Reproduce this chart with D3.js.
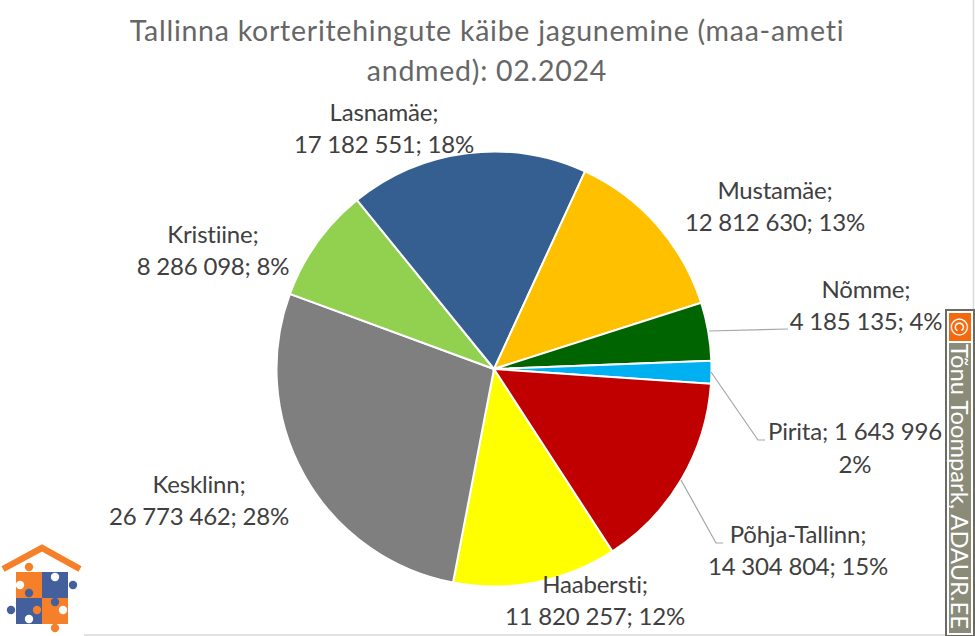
<!DOCTYPE html>
<html><head><meta charset="utf-8">
<script src="https://cdn.jsdelivr.net/npm/d3@7"></script>
<style>html,body{margin:0;padding:0;background:#fff;overflow:hidden}svg{display:block}text{font-family:Lato,"Open Sans",sans-serif}</style>
</head><body><svg id="c" width="975" height="636"></svg>
<script>
const categories = ["Haabersti","Kesklinn","Kristiine","Lasnamäe","Mustamäe","Nõmme","Pirita","Põhja-Tallinn"];
const values = [11820257,26773462,8286098,17182551,12812630,4185135,1643996,14304804];
const valueLabels = ["11 820 257","26 773 462","8 286 098","17 182 551","12 812 630","4 185 135","1 643 996","14 304 804"];
const percents = ["12%","28%","8%","18%","13%","4%","2%","15%"];
const colors = ["#ffff00","#7f7f7f","#92d050","#355f91","#ffc000","#006400","#00b0f0","#c00000"];
const titleLines = ["Tallinna korteritehingute käibe jagunemine (maa-ameti","andmed): 02.2024"];
const labelPos = [[595,593],[199,493],[213,243],[384,121],[775,199],[866,298],[855,440],[798,543]];

const svg = d3.select("#c");
const cx=494,cy=369,R=217.5;
const textCol="#404040";

svg.append("g").selectAll("text").data(titleLines).join("text")
  .attr("x",487).attr("y",(d,i)=>41+i*40).attr("text-anchor","middle")
  .attr("font-size",28.5).attr("fill","#666").attr("letter-spacing",0.74).text(d=>d);

const pie=d3.pie().sort(null).value(d=>d).startAngle(147*Math.PI/180).endAngle((147+360)*Math.PI/180);
const arc=d3.arc().innerRadius(0).outerRadius(R);
svg.append("g").attr("transform",`translate(${cx},${cy})`).selectAll("path").data(pie(values)).join("path")
  .attr("d",arc).attr("fill",(d,i)=>colors[i]).attr("stroke","#fff").attr("stroke-width",2);

// leader lines
const leaders=[[[709,331],[788,329]],[[711,372],[758,440],[765,440]],[[681,480],[716,543],[723,543]]];
svg.append("g").selectAll("path").data(leaders).join("path")
  .attr("d",d3.line()).attr("fill","none").attr("stroke","#a6a6a6").attr("stroke-width",1.2);

// labels
const lab=svg.append("g").selectAll("text").data(categories).join("text")
  .attr("text-anchor","middle").attr("font-size",24).attr("letter-spacing",-0.2).attr("fill",textCol);
lab.each(function(d,i){
  const t=d3.select(this),[x,y]=labelPos[i];
  if(d==="Pirita"){
    t.append("tspan").attr("x",x).attr("y",y).text(`${d}; ${valueLabels[i]}`);
    t.append("tspan").attr("x",x).attr("y",y+33).text(percents[i]);
  } else {
    t.append("tspan").attr("x",x).attr("y",y).text(d+";");
    t.append("tspan").attr("x",x).attr("y",y+32).text(`${valueLabels[i]}; ${percents[i]}`);
  }
});

// frame edges
svg.append("path").attr("d","M0,635H975").attr("stroke","#d9d9d9").attr("stroke-width",1.5);
svg.append("path").attr("d","M973.5,0V636").attr("stroke","#d9d9d9").attr("stroke-width",1.5);

// watermark
const wm=svg.append("g");
wm.append("rect").attr("x",945).attr("y",309).attr("width",30).attr("height",327).attr("fill","#6b6b63");
wm.append("rect").attr("x",947).attr("y",311).attr("width",26).attr("height",324).attr("fill","#fff");
wm.append("rect").attr("x",949).attr("y",313).attr("width",22).attr("height",28).attr("fill","#f26a10");
wm.append("rect").attr("x",949).attr("y",343).attr("width",22).attr("height",290).attr("fill","#8b8b79");
wm.append("text").attr("transform","translate(951,327) rotate(90)").attr("text-anchor","middle").attr("font-size",24).attr("fill","#fff").style("font-family","'Liberation Sans'").text("©");
wm.append("text").attr("transform","translate(951,344) rotate(90)").attr("font-size",22.5).attr("textLength",285).attr("lengthAdjust","spacingAndGlyphs").attr("fill","#fff").text("Tõnu Toompark, ADAUR.EE");

// logo
const lg=svg.append("g");
lg.append("rect").attr("x",0).attr("y",541).attr("width",84).attr("height",95).attr("fill","#fff");
const or="#f58029",bl="#43609c";
lg.append("path").attr("d","M3,569L42,548L80,569").attr("fill","none").attr("stroke",or).attr("stroke-width",6.5);
lg.append("rect").attr("x",16).attr("y",572).attr("width",26).attr("height",26).attr("fill",or);
lg.append("rect").attr("x",42).attr("y",572).attr("width",26).attr("height",26).attr("fill",bl);
lg.append("rect").attr("x",16).attr("y",598).attr("width",26).attr("height",26).attr("fill",bl);
lg.append("rect").attr("x",42).attr("y",598).attr("width",26).attr("height",26).attr("fill",or);
const knobs=[[29,567,or],[20,585,"#fff"],[55,577,"#fff"],[73,585,bl],[47,585,bl],[29,593,bl],[11,610,bl],[37,610,or],[29,619,"#fff"],[55,602,bl],[63,610,"#fff"],[55,628,or]];
lg.selectAll("circle").data(knobs).join("circle").attr("cx",d=>d[0]).attr("cy",d=>d[1]).attr("r",4.2).attr("fill",d=>d[2]);
</script></body></html>
